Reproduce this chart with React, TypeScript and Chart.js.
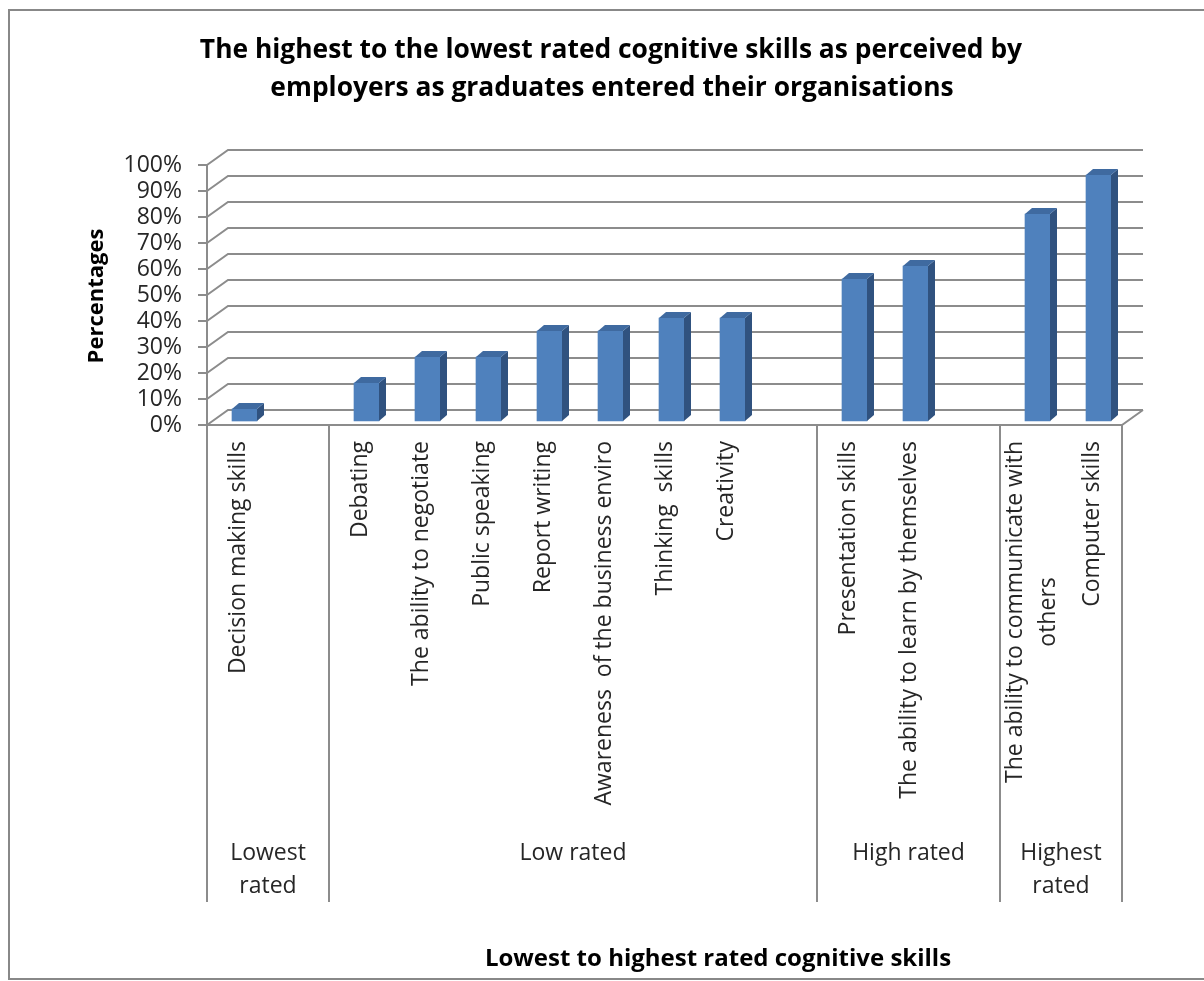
import React, { useEffect, useRef } from "react";
import { Chart, registerables } from "chart.js";

Chart.register(...registerables);

// ---------- data ----------
const chartTitle = [
  "The highest to the lowest rated cognitive skills as perceived by",
  "employers as graduates entered their organisations",
];
const yAxisTitle = "Percentages";
const xAxisTitle = "Lowest to highest rated cognitive skills";

const categories: (string | string[])[] = [
  "Decision making skills",
  "",
  "Debating",
  "The ability to negotiate",
  "Public speaking",
  "Report writing",
  "Awareness  of the business enviro",
  "Thinking  skills",
  "Creativity",
  "",
  "Presentation skills",
  "The ability to learn by themselves",
  "",
  ["The ability to communicate with", "others"],
  "Computer skills",
];
const percentages: (number | null)[] = [5, null, 15, 25, 25, 35, 35, 40, 40, null, 55, 60, null, 80, 95];

const groupLabels: string[][] = [["Lowest", "rated"], ["Low rated"], ["High rated"], ["Highest", "rated"]];
const groupSizes: number[] = [2, 8, 3, 2];

const yMin = 0;
const yMax = 100;
const yStep = 10;

// ---------- styles ----------
const FONT = "'Open Sans', sans-serif";
const GRID = "#8C8C8C";
const TEXT = "#262626";
const BAR_FRONT = "#4F81BD";
const BAR_SIDE = "#30527F";
const BAR_TOP = "#3F6AA0";
const WALL_DX = 21;
const WALL_DY = -15;
const BAR_SHIFT_X = 7;
const BAR_SHIFT_Y = -3;
const BAR_DEPTH_X = 7;
const BAR_DEPTH_Y = -6;

const excel3d = {
  id: "excel3d",
  beforeDraw(chart: any) {
    const { ctx, chartArea: a, scales } = chart;
    const xs = scales.x;
    ctx.save();
    // outer border
    ctx.strokeStyle = "#888888";
    ctx.lineWidth = 2;
    ctx.strokeRect(9, 10, 1300, 969);

    // chart title
    ctx.fillStyle = "#000000";
    ctx.textAlign = "center";
    ctx.textBaseline = "middle";
    ctx.font = `bold 26.4px ${FONT}`;
    ctx.fillText(chartTitle[0], 611, 50);
    ctx.fillText(chartTitle[1], 612, 88);

    // axis titles
    ctx.font = `bold 24px ${FONT}`;
    ctx.fillText(xAxisTitle, 718, 959);
    ctx.font = `bold 22px ${FONT}`;
    ctx.save();
    ctx.translate(97, 296);
    ctx.rotate(-Math.PI / 2);
    ctx.fillText(yAxisTitle, 0, 0);
    ctx.restore();

    // category labels (rotated)
    ctx.fillStyle = TEXT;
    ctx.font = `23px ${FONT}`;
    const lineH = 33;
    categories.forEach((lab, i) => {
      const lines = Array.isArray(lab) ? lab : [lab];
      if (!lines.join("").trim()) return;
      const cx = xs.getPixelForValue(i) + 1;
      const w = Math.max(...lines.map((l) => ctx.measureText(l).width));
      ctx.save();
      ctx.translate(cx, 441);
      ctx.rotate(-Math.PI / 2);
      ctx.textAlign = "center";
      lines.forEach((l, k) => {
        const off = (k - (lines.length - 1) / 2) * lineH;
        ctx.fillText(l, -w / 2, off);
      });
      ctx.restore();
    });

    // group separators + group labels
    const slot = (a.right - a.left) / categories.length;
    ctx.strokeStyle = GRID;
    ctx.lineWidth = 2;
    let acc = 0;
    const bounds = [0];
    groupSizes.forEach((n) => {
      acc += n;
      bounds.push(acc);
    });
    bounds.forEach((b) => {
      const x = a.left + b * slot;
      ctx.beginPath();
      ctx.moveTo(x, a.bottom);
      ctx.lineTo(x, 902);
      ctx.stroke();
    });
    ctx.textAlign = "center";
    ctx.textBaseline = "middle";
    groupLabels.forEach((lines, g) => {
      const x0 = a.left + bounds[g] * slot;
      const x1 = a.left + bounds[g + 1] * slot;
      lines.forEach((l, k) => ctx.fillText(l, (x0 + x1) / 2, 853 + k * 33));
    });
    ctx.restore();
  },
  beforeDatasetsDraw(chart: any) {
    const { ctx, chartArea: a, scales } = chart;
    const ys = scales.y;
    ctx.save();
    ctx.strokeStyle = GRID;
    ctx.lineWidth = 2;
    for (let v = yMin; v <= yMax; v += yStep) {
      const y = ys.getPixelForValue(v);
      ctx.beginPath();
      ctx.moveTo(a.left, y);
      ctx.lineTo(a.left + WALL_DX, y + WALL_DY);
      ctx.lineTo(a.right + WALL_DX, y + WALL_DY);
      ctx.stroke();
    }
    // floor front edge and right edge
    const y0 = ys.getPixelForValue(yMin);
    ctx.beginPath();
    ctx.moveTo(a.left, y0);
    ctx.lineTo(a.right, y0);
    ctx.lineTo(a.right + WALL_DX, y0 + WALL_DY);
    ctx.stroke();
    ctx.restore();
    ctx.save();
    ctx.translate(BAR_SHIFT_X, BAR_SHIFT_Y);
  },
  afterDatasetsDraw(chart: any) {
    const { ctx } = chart;
    const meta = chart.getDatasetMeta(0);
    meta.data.forEach((el: any, i: number) => {
      if (percentages[i] == null) return;
      const { x, y, base, width } = el.getProps(["x", "y", "base", "width"], true);
      const l = x - width / 2;
      const r = x + width / 2;
      ctx.fillStyle = BAR_SIDE;
      ctx.beginPath();
      ctx.moveTo(r, y);
      ctx.lineTo(r + BAR_DEPTH_X, y + BAR_DEPTH_Y);
      ctx.lineTo(r + BAR_DEPTH_X, base + BAR_DEPTH_Y);
      ctx.lineTo(r, base);
      ctx.closePath();
      ctx.fill();
      ctx.fillStyle = BAR_TOP;
      ctx.beginPath();
      ctx.moveTo(l, y);
      ctx.lineTo(l + BAR_DEPTH_X, y + BAR_DEPTH_Y);
      ctx.lineTo(r + BAR_DEPTH_X, y + BAR_DEPTH_Y);
      ctx.lineTo(r, y);
      ctx.closePath();
      ctx.fill();
    });
    ctx.restore();
  },
};

export default function App() {
  const ref = useRef<HTMLCanvasElement | null>(null);
  useEffect(() => {
    if (!ref.current) return;
    const chart = new Chart(ref.current, {
      type: "bar",
      data: {
        labels: categories as any,
        datasets: [
          {
            data: percentages,
            backgroundColor: BAR_FRONT,
            borderWidth: 0,
            barThickness: 25,
          },
        ],
      },
      options: {
        responsive: false,
        animation: false,
        events: [],
        layout: { padding: { left: 0, top: 165, right: 82, bottom: 0 } },
        plugins: {
          legend: { display: false },
          tooltip: { enabled: false },
          title: { display: false },
        },
        scales: {
          x: {
            ticks: { display: false },
            grid: { display: false },
            border: { display: false },
            afterFit: (s: any) => {
              s.height = 556;
            },
          },
          y: {
            min: yMin,
            max: yMax,
            ticks: {
              stepSize: yStep,
              autoSkip: false,
              callback: (v: any) => `${v}%`,
              font: { family: FONT, size: 23 },
              color: TEXT,
              padding: 16,
            },
            grid: {
              drawOnChartArea: false,
              drawTicks: true,
              tickLength: 9,
              color: GRID,
              lineWidth: 2,
            },
            border: { display: true, color: GRID, width: 2 },
            afterFit: (s: any) => {
              s.width = 207;
            },
          },
        },
      },
      plugins: [excel3d],
    });
    return () => chart.destroy();
  }, []);
  return (
    <div style={{ position: "absolute", left: 0, top: 0, width: 1204, height: 981 }}>
      <canvas ref={ref} width={1204} height={981} style={{ display: "block", width: 1204, height: 981 }} />
    </div>
  );
}
